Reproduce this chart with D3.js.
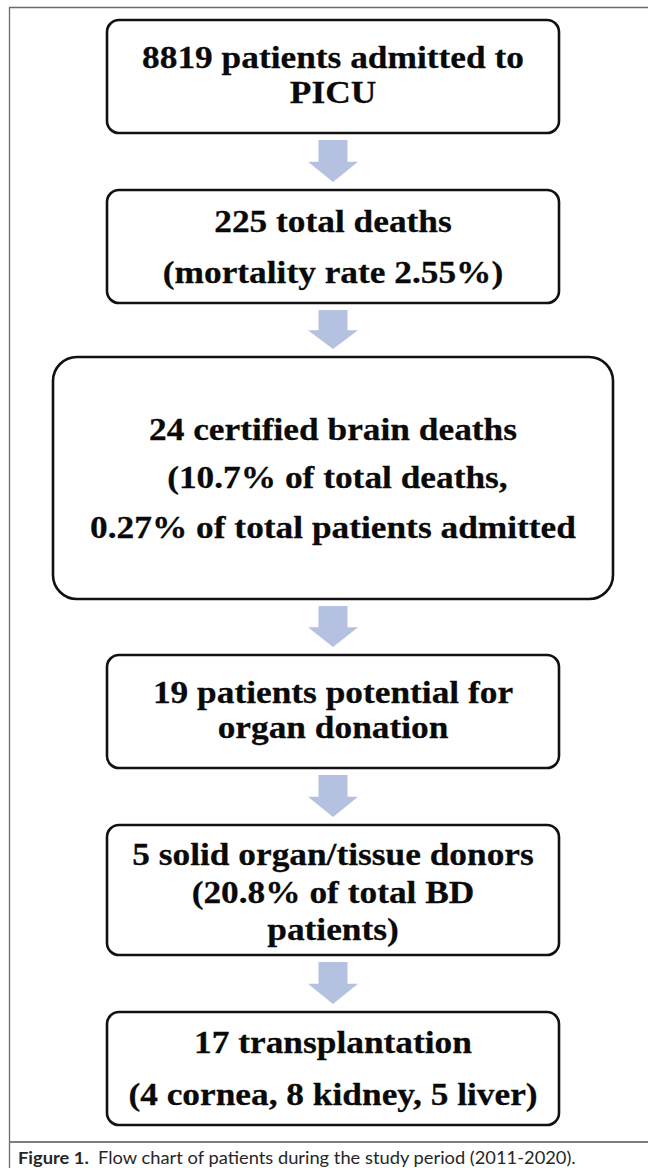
<!DOCTYPE html>
<html>
<head>
<meta charset="utf-8">
<script src="https://cdn.jsdelivr.net/npm/d3@7"></script>
<style>
  html, body { margin: 0; padding: 0; background: #ffffff; }
  svg { display: block; }
  text { white-space: pre; }
</style>
</head>
<body>
<div id="chart"></div>
<script>
// ---- Data: flow chart steps (text lines per box) ----
const box1Lines = ["8819 patients admitted to", "PICU"];
const box2Lines = ["225 total deaths", "(mortality rate 2.55%)"];
const box3Lines = ["24 certified brain deaths", " (10.7% of total deaths,", "0.27% of total patients admitted"];
const box4Lines = ["19 patients potential for", "organ donation"];
const box5Lines = ["5 solid organ/tissue donors", "(20.8% of total BD", "patients)"];
const box6Lines = ["17 transplantation", "(4 cornea, 8 kidney, 5 liver)"];
const steps = [box1Lines, box2Lines, box3Lines, box4Lines, box5Lines, box6Lines];

const captionBold = "Figure 1.";
const captionText = "Flow chart of patients during the study period (2011-2020).";

// ---- Layout (geometry kept separate from data) ----
const W = 648, H = 1168;
const cx = 333;
const boxLayout = [
  { x0: 107, x1: 559, y0: 20,   y1: 133,  r: 12, baselines: [68, 103] },
  { x0: 107, x1: 559, y0: 190,  y1: 303,  r: 12, baselines: [232, 283] },
  { x0: 53,  x1: 613, y0: 357,  y1: 599,  r: 24, baselines: [440, 488, 538] },
  { x0: 107, x1: 559, y0: 655,  y1: 768,  r: 12, baselines: [703, 738] },
  { x0: 107, x1: 559, y0: 825,  y1: 955,  r: 12, baselines: [865, 903, 940] },
  { x0: 107, x1: 559, y0: 1012, y1: 1125, r: 12, baselines: [1053, 1105] }
];
const arrowColor = "#b4c1e1";
const fontSize = 31, stretch = 1.14;
const captionX = 18, captionY = 1164, captionWidth = 558;

const svg = d3.select("#chart").append("svg")
  .attr("width", W).attr("height", H)
  .attr("viewBox", `0 0 ${W} ${H}`);

// Outer figure frame (top + left edges, cropped on the right/bottom)
svg.append("path")
  .attr("d", `M${W},7.5 H9.5 V${H}`)
  .attr("fill", "none").attr("stroke", "#6b6b6b").attr("stroke-width", 1.3);

// Caption divider
svg.append("line")
  .attr("x1", 9).attr("x2", W).attr("y1", 1142).attr("y2", 1142)
  .attr("stroke", "#7d7d7d").attr("stroke-width", 2);

// Arrows between consecutive boxes
const arrowData = d3.pairs(boxLayout);
const stemHalf = 14.5, headHalf = 25;
svg.selectAll("path.arrow").data(arrowData).join("path")
  .attr("class", "arrow")
  .attr("fill", arrowColor)
  .attr("d", ([a, b]) => {
    const top = a.y1 + 7, tip = b.y0 - 8;
    const headY = top + (tip - top) * 0.52;
    const p = d3.path();
    p.moveTo(cx - stemHalf, top);
    p.lineTo(cx + stemHalf, top);
    p.lineTo(cx + stemHalf, headY);
    p.lineTo(cx + headHalf, headY);
    p.lineTo(cx, tip);
    p.lineTo(cx - headHalf, headY);
    p.lineTo(cx - stemHalf, headY);
    p.closePath();
    return p.toString();
  });

// Boxes
const g = svg.selectAll("g.step").data(steps.map((lines, i) => ({ lines, L: boxLayout[i] })))
  .join("g").attr("class", "step");

g.append("rect")
  .attr("x", d => d.L.x0).attr("y", d => d.L.y0)
  .attr("width", d => d.L.x1 - d.L.x0).attr("height", d => d.L.y1 - d.L.y0)
  .attr("rx", d => d.L.r).attr("ry", d => d.L.r)
  .attr("fill", "#ffffff").attr("stroke", "#111").attr("stroke-width", 2.6);

g.selectAll("text").data(d => d.lines.map((t, j) => ({ t, y: d.L.baselines[j] })))
  .join("text")
  .attr("transform", d => `translate(${cx},${d.y}) scale(${stretch},1)`)
  .attr("text-anchor", "middle")
  .attr("font-family", "'Liberation Serif', 'Times New Roman', serif")
  .attr("font-weight", "bold")
  .attr("font-size", fontSize)
  .attr("fill", "#0a0a0a")
  .attr("stroke", "#0a0a0a").attr("stroke-width", 0.25)
  .text(d => d.t);

// Caption
const cap = svg.append("text")
  .attr("x", 0).attr("y", 0)
  .attr("font-family", "Lato, 'Open Sans', sans-serif")
  .attr("font-size", 16.5)
  .attr("fill", "#262626");
cap.append("tspan").attr("font-weight", "bold").text(captionBold);
cap.append("tspan").text("  " + captionText);
const capLen = cap.node().getComputedTextLength() || captionWidth;
cap.attr("transform", `translate(${captionX},${captionY}) scale(${captionWidth / capLen},1)`);
</script>
</body>
</html>
